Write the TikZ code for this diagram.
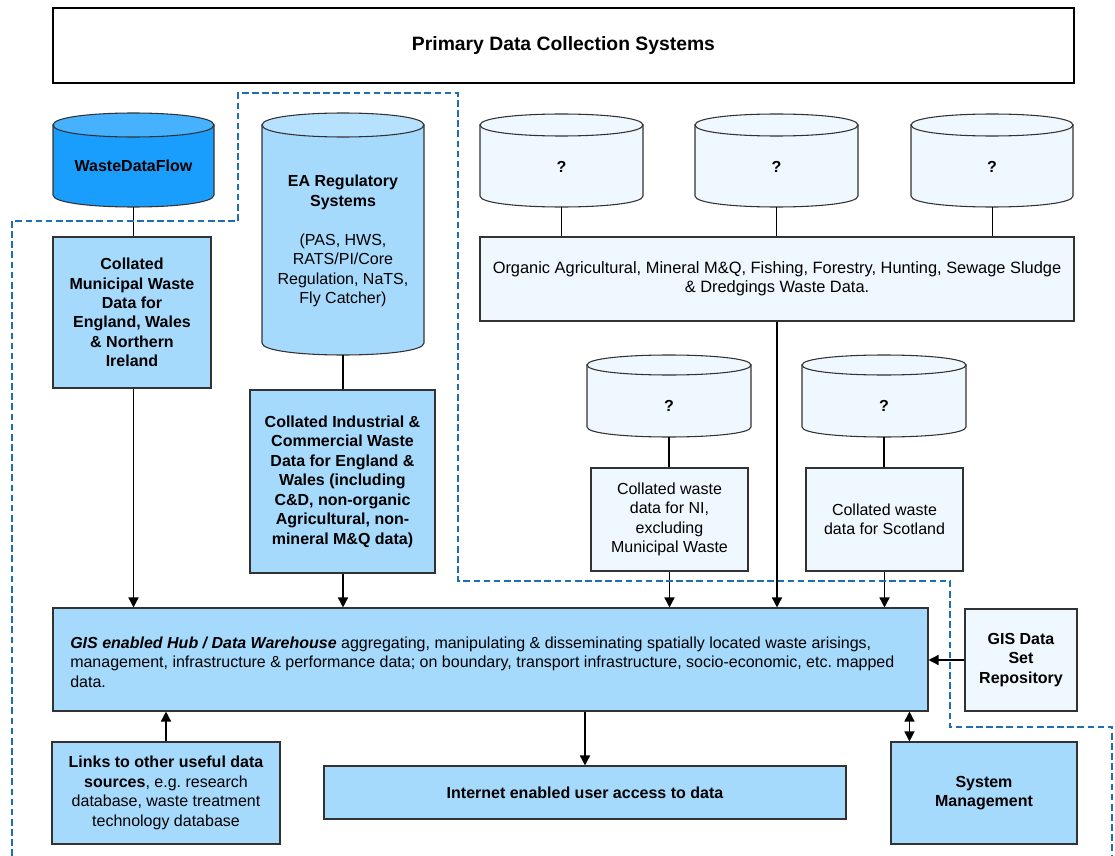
\documentclass[tikz,border=0pt]{standalone}
\usepackage{fontspec}
\setmainfont{Liberation Sans}
\usetikzlibrary{arrows.meta,calc}
\definecolor{lblue}{RGB}{166,218,253}
\definecolor{eatop}{RGB}{182,226,255}
\definecolor{dblue}{RGB}{26,158,254}
\definecolor{dbluetop}{RGB}{70,177,255}
\definecolor{pale}{RGB}{239,247,255}
\definecolor{edge}{RGB}{50,50,50}
\definecolor{dashblue}{RGB}{30,110,180}
\newcommand\cylshape[7]{%
  \filldraw[cylline, fill=#6] (#1,#3+#5) -- (#1,#4-#5) .. controls (#1,#4+#5/3) and (#2,#4+#5/3) .. (#2,#4-#5) -- (#2,#3+#5) -- cycle;
  \filldraw[cylline, fill=#7] (#1,#3+#5) .. controls (#1,#3-#5/3) and (#2,#3-#5/3) .. (#2,#3+#5) .. controls (#2,#3+7*#5/3) and (#1,#3+7*#5/3) .. (#1,#3+#5) -- cycle;
}
% \rectnode{style}{x1}{y1}{x2}{y2}{name}{text}
\newcommand\rectnode[7]{%
  \node[#1, minimum width={(#4-#2)*0.75pt}, minimum height={(#5-#3)*0.75pt}] (#6) at ({(#2+#4)/2},{(#3+#5)/2}) {#7};
}
\begin{document}
\begin{tikzpicture}[x=0.75pt,y=-0.75pt,
  font=\fontsize{12}{14.6}\selectfont,
  box/.style={draw=edge, line width=0.8pt, fill=lblue, inner sep=0pt, align=center},
  palebox/.style={box, fill=pale},
  boldtext/.style={font=\fontsize{12}{14.6}\selectfont\bfseries},
  cylline/.style={draw=edge, line width=0.8pt},
  anchorbox/.style={inner sep=0pt},
  txt/.style={inner sep=0pt, align=center},
  conn/.style={draw=black, line width=1.1pt},
  arr/.style={conn, -{Triangle[length=7.5pt,width=7.5pt]}},
  darr/.style={conn, {Triangle[length=7.5pt,width=7.5pt]}-{Triangle[length=7.5pt,width=7.5pt]}},
  boundaryline/.style={draw=dashblue, line width=1.5pt, dash pattern=on 5pt off 2.6pt}
]
\useasboundingbox (0,0) rectangle (1115,856);

% title
\rectnode{box, fill=white, draw=black, font=\fontsize{14.5}{17}\selectfont\bfseries}{53}{8}{1074}{83}{title}{Primary Data Collection Systems}

% cylinders
\cylshape{53}{214}{113}{207}{12}{dblue}{dbluetop}
\rectnode{anchorbox}{53}{113}{214}{207}{wdf}{}
\node[txt, boldtext] (wdftext) at (133.5,166) {WasteDataFlow};

\cylshape{262}{424}{113}{355}{12}{lblue}{eatop}
\rectnode{anchorbox}{262}{113}{424}{355}{ea}{}
\node[txt] (eatext) at (343,241) {\textbf{EA Regulatory}\\\textbf{Systems}\\\mbox{}\\(PAS, HWS,\\RATS/PI/Core\\Regulation, NaTS,\\Fly Catcher)};

\cylshape{480}{643}{114}{207}{11}{pale}{pale}
\rectnode{anchorbox}{480}{114}{643}{207}{q1}{}
\node[txt, boldtext] (q1text) at (561.5,167) {?};
\cylshape{695}{858}{114}{207}{11}{pale}{pale}
\rectnode{anchorbox}{695}{114}{858}{207}{q2}{}
\node[txt, boldtext] (q2text) at (776.5,167) {?};
\cylshape{911}{1073}{114}{207}{11}{pale}{pale}
\rectnode{anchorbox}{911}{114}{1073}{207}{q3}{}
\node[txt, boldtext] (q3text) at (992,167) {?};

\cylshape{587}{751}{355}{437}{10}{pale}{pale}
\rectnode{anchorbox}{587}{355}{751}{437}{nic}{}
\node[txt, boldtext] (nictext) at (669,406) {?};
\cylshape{802}{966}{355}{437}{10}{pale}{pale}
\rectnode{anchorbox}{802}{355}{966}{437}{scc}{}
\node[txt, boldtext] (scctext) at (884,406) {?};

% boxes
\rectnode{box, boldtext}{53}{237}{211}{388}{mun}{Collated\\Municipal Waste\\Data for\\England, Wales\\\& Northern\\Ireland}
\rectnode{box, boldtext}{250}{390}{435}{573}{ic}{Collated Industrial \&\\Commercial Waste\\Data for England \&\\Wales (including\\C\&D, non-organic\\Agricultural, non-\\mineral M\&Q data)}
\rectnode{palebox, font=\fontsize{12.3}{14.6}\selectfont}{480}{237}{1074}{321}{org}{Organic Agricultural, Mineral M\&Q, Fishing, Forestry, Hunting, Sewage Sludge\\\& Dredgings Waste Data.}
\rectnode{palebox}{591}{468}{748}{571}{nib}{Collated waste\\data for NI,\\excluding\\Municipal Waste}
\rectnode{palebox}{806}{468}{963}{571}{scb}{Collated waste\\data for Scotland}
\rectnode{box}{53}{608}{928}{711}{hub}{}
\node[txt, anchor=west, align=left] (hubtext) at (70,662) {\textbf{\textit{GIS enabled Hub / Data Warehouse}} aggregating, manipulating \& disseminating spatially located waste arisings,\\management, infrastructure \& performance data; on boundary, transport infrastructure, socio-economic, etc.\ mapped\\data.};
\rectnode{palebox, boldtext}{965}{609}{1077}{711}{gis}{GIS Data\\Set\\Repository}
\rectnode{box}{52}{742}{280}{844}{links}{\textbf{Links to other useful data}\\\textbf{sources}, e.g.\ research\\database, waste treatment\\technology database}
\rectnode{box, boldtext}{324}{766}{846}{819}{inet}{Internet enabled user access to data}
\rectnode{box, boldtext}{891}{742}{1077}{844}{sys}{System\\Management}

% connectors
\draw[conn] (wdf.south) -- (wdf.south |- mun.north);
\draw[arr] (wdf.south |- mun.south) -- (wdf.south |- hub.north);
\draw[conn] (ea.south) -- (ea.south |- ic.north);
\draw[arr] (ea.south |- ic.south) -- (ea.south |- hub.north);
\draw[conn, line width=0.6pt] (q1.south) -- (q1.south |- org.north);
\draw[conn] (q2.south) -- (q2.south |- org.north);
\draw[conn, line width=0.6pt] (q3.south) -- (q3.south |- org.north);
\draw[arr] (org.south) -- (org.south |- hub.north);
\draw[conn] (nic.south) -- (nic.south |- nib.north);
\draw[arr] (nib.south) -- (nib.south |- hub.north);
\draw[conn] (scc.south) -- (scc.south |- scb.north);
\draw[arr] (scb.south) -- (scb.south |- hub.north);
\draw[arr] (gis.west) -- (gis.west -| hub.east);
\draw[arr] (inet.north |- hub.south) -- (inet.north);
\draw[arr] (links.north) -- (links.north |- hub.south);
\coordinate (sysport) at ($(sys.north west)+(19,0)$);
\draw[darr] (sysport |- hub.south) -- (sysport);

% dashed boundary
\draw[boundaryline] (12,856) -- (12,221) -- (238,221) -- (238,93) -- (458,93) -- (458,581) -- (950,581) -- (950,727) -- (1112,727) -- (1112,856);
\end{tikzpicture}
\end{document}
